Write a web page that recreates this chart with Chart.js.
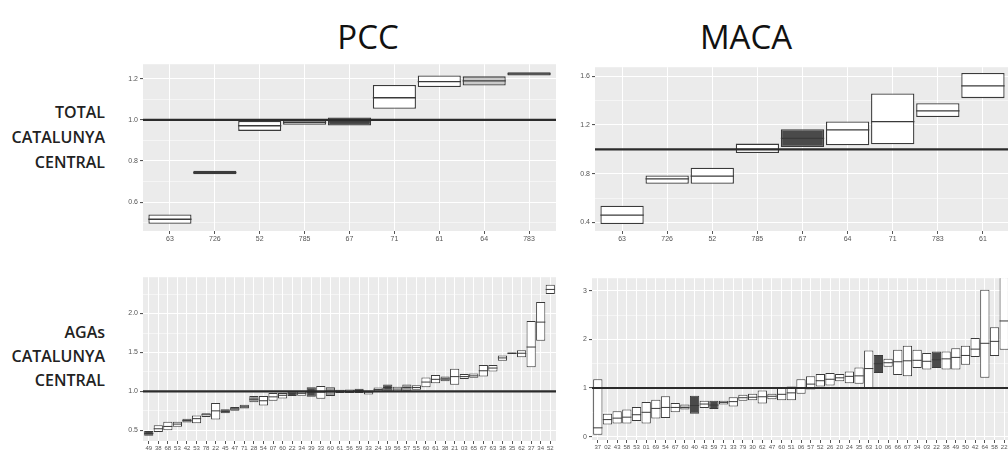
<!DOCTYPE html>
<html><head><meta charset="utf-8">
<script src="https://cdn.jsdelivr.net/npm/chart.js@4.4.1/dist/chart.umd.min.js"></script>
<style>
html,body{margin:0;padding:0;background:#fff;width:1008px;height:457px;overflow:hidden;position:relative;font-family:"Open Sans",sans-serif;}
.title{position:absolute;font-size:33px;line-height:32px;color:#111;transform:translateX(-50%);white-space:nowrap;}
.row{position:absolute;right:903px;text-align:right;font-size:16px;font-weight:600;color:#222;white-space:nowrap;}
canvas{position:absolute;}
</style></head><body>
<div class="title" style="left:368px;top:21px;">PCC</div>
<div class="title" style="left:746px;top:21px;">MACA</div>
<div class="row" style="top:100px;line-height:25px;">TOTAL<br>CATALUNYA<br>CENTRAL</div>
<div class="row" style="top:320px;line-height:24px;">AGAs<br>CATALUNYA<br>CENTRAL</div>
<canvas id="c1"></canvas><canvas id="c2"></canvas><canvas id="c3"></canvas><canvas id="c4"></canvas>
<script>
// ---- DATA ----
const pccTotalCats = ['63','726','52','785','67','71','61','64','783'];
const pccTotalLow  = [0.495,0.735,0.946,0.976,0.972,1.054,1.159,1.166,1.215];
const pccTotalMid  = [0.517,0.743,0.971,0.988,0.990,1.107,1.185,1.189,1.223];
const pccTotalHigh = [0.540,0.752,0.995,1.000,1.011,1.169,1.215,1.211,1.231];
const pccTotalSig  = [0,2,0,1,3,0,0,1,2];

const macaTotalCats = ['63','726','52','785','67','64','71','783','61'];
const macaTotalLow  = [0.387,0.717,0.717,0.969,1.019,1.033,1.041,1.266,1.420];
const macaTotalMid  = [0.461,0.758,0.780,1.000,1.090,1.159,1.228,1.315,1.521];
const macaTotalHigh = [0.538,0.785,0.849,1.047,1.165,1.228,1.459,1.379,1.626];
const macaTotalSig  = [0,0,0,0,3,0,0,0,0];

const pccAgaCats = ['49','38','68','53','42','53','78','22','45','47','71','28','54','07','60','22','34','39','33','60','61','56','59','33','24','19','56','57','55','60','61','38','21','03','65','67','63','38','35','62','37','34','52'];
const pccAgaLow  = [0.43,0.48,0.50,0.545,0.60,0.59,0.67,0.64,0.72,0.75,0.78,0.86,0.82,0.88,0.91,0.94,0.945,0.93,0.905,0.94,0.98,0.98,0.98,0.96,1.0,1.01,1.0,1.01,1.02,1.055,1.105,1.13,1.085,1.16,1.175,1.19,1.255,1.395,1.48,1.44,1.31,1.65,2.25];
const pccAgaMid  = [0.46,0.52,0.55,0.58,0.625,0.65,0.70,0.75,0.745,0.775,0.80,0.90,0.88,0.93,0.95,0.97,0.975,0.99,0.99,1.0,1.0,1.0,1.01,0.99,1.025,1.05,1.03,1.05,1.05,1.12,1.155,1.16,1.19,1.19,1.2,1.265,1.30,1.43,1.49,1.49,1.57,1.89,2.31];
const pccAgaHigh = [0.49,0.566,0.61,0.61,0.65,0.69,0.72,0.85,0.77,0.80,0.83,0.94,0.94,0.98,0.98,1.0,1.0,1.055,1.07,1.055,1.02,1.025,1.035,1.01,1.05,1.09,1.06,1.09,1.08,1.18,1.21,1.19,1.29,1.225,1.23,1.34,1.34,1.46,1.50,1.53,1.905,2.15,2.37];
const pccAgaSig  = [3,0,0,0,2,0,0,0,3,2,2,2,0,0,0,3,0,3,0,2,0,0,3,0,0,3,0,2,0,0,0,2,0,0,0,0,0,0,0,0,0,0,0];

const macaAgaCats = ['37','02','43','58','53','01','69','54','67','60','40','43','59','71','33','79','30','62','47','60','51','06','57','52','26','20','24','35','63','10','06','66','67','34','03','22','38','49','50','42','64','58','22'];
const macaAgaLow  = [0.04,0.25,0.27,0.27,0.32,0.27,0.37,0.385,0.50,0.56,0.47,0.59,0.57,0.66,0.62,0.74,0.75,0.68,0.77,0.75,0.75,0.88,0.97,1.03,1.05,1.14,1.10,1.09,1.0,1.31,1.44,1.27,1.24,1.41,1.38,1.41,1.38,1.38,1.48,1.64,1.21,1.66,1.79];
const macaAgaMid  = [0.18,0.35,0.38,0.40,0.45,0.50,0.58,0.60,0.60,0.60,0.64,0.67,0.65,0.70,0.72,0.80,0.81,0.82,0.83,0.87,0.90,1.0,1.08,1.15,1.18,1.21,1.24,1.25,1.40,1.5,1.52,1.54,1.56,1.57,1.55,1.58,1.60,1.63,1.67,1.80,1.92,1.96,2.38];
const macaAgaHigh = [1.18,0.47,0.52,0.56,0.61,0.71,0.76,0.83,0.69,0.66,0.84,0.74,0.74,0.74,0.81,0.86,0.88,0.95,0.88,1.0,1.03,1.18,1.24,1.29,1.31,1.29,1.34,1.42,1.77,1.68,1.60,1.79,1.87,1.79,1.72,1.75,1.75,1.82,1.87,2.03,3.02,2.25,3.3];
const macaAgaSig  = [0,0,0,0,0,0,0,0,0,1,3,0,3,0,0,0,0,0,0,0,0,0,0,0,0,0,0,0,0,3,0,0,0,0,0,3,0,0,0,0,0,0,0];

const pccTotalTicks = [0.6,0.8,1.0,1.2];   const pccTotalTickLabels = ['0.6','0.8','1.0','1.2'];
const macaTotalTicks = [0.4,0.8,1.2,1.6];  const macaTotalTickLabels = ['0.4','0.8','1.2','1.6'];
const pccAgaTicks = [0.5,1.0,1.5,2.0];     const pccAgaTickLabels = ['0.5','1.0','1.5','2.0'];
const macaAgaTicks = [0,1,2,3];            const macaAgaTickLabels = ['0','1','2','3'];
const refValue = 1;

// ---- STYLE ----
const sigFill = ['#ffffff','#c9c9c9','#9a9a9a','#4a4a4a'];
const YW = 22, XH = 20, PT = 6, PR = 4;

const crossbarPlugin = {
  id: 'crossbar',
  beforeDraw(chart) {
    const a = chart.chartArea, ctx = chart.ctx;
    ctx.save(); ctx.fillStyle = '#ebebeb';
    ctx.fillRect(a.left, a.top, a.right - a.left, a.bottom - a.top);
    ctx.restore();
  },
  afterDatasetsDraw(chart) {
    const a = chart.chartArea, ctx = chart.ctx, ys = chart.scales.y;
    const ds = chart.data.datasets[0], meta = chart.getDatasetMeta(0);
    ctx.save();
    ctx.beginPath(); ctx.rect(a.left, a.top, a.right - a.left, a.bottom - a.top); ctx.clip();
    ctx.strokeStyle = ds.borderColor; ctx.lineWidth = ds.borderWidth;
    meta.data.forEach((bar, i) => {
      const y = ys.getPixelForValue(ds.mids[i]);
      ctx.beginPath(); ctx.moveTo(bar.x - bar.width / 2, y); ctx.lineTo(bar.x + bar.width / 2, y); ctx.stroke();
    });
    const yr = ys.getPixelForValue(refValue);
    ctx.strokeStyle = '#2b2b2b'; ctx.lineWidth = 2.2;
    ctx.beginPath(); ctx.moveTo(a.left, yr); ctx.lineTo(a.right, yr); ctx.stroke();
    ctx.restore();
  }
};

function makePanel(id, area, cats, lo, mid, hi, sig, yMin, yMax, ticks, tickLabels, xFont, bw) {
  const cv = document.getElementById(id);
  const w = area.right - area.left + YW + PR, h = area.bottom - area.top + PT + XH;
  cv.width = Math.round(w); cv.height = Math.round(h);
  cv.style.left = (area.left - YW) + 'px'; cv.style.top = (area.top - PT) + 'px';
  const minors = [];
  for (let i = 0; i < ticks.length - 1; i++) minors.push((ticks[i] + ticks[i + 1]) / 2);
  const step = ticks[1] - ticks[0];
  if (ticks[0] - step / 2 > yMin) minors.unshift(ticks[0] - step / 2);
  if (ticks[ticks.length - 1] + step / 2 < yMax) minors.push(ticks[ticks.length - 1] + step / 2);
  const n = cats.length;
  new Chart(cv, {
    type: 'bar',
    data: {
      datasets: [{
        data: cats.map((c, i) => ({ x: i, y: [lo[i], hi[i]] })),
        mids: mid,
        backgroundColor: sig.map(s => sigFill[s]),
        borderColor: '#3a3a3a', borderWidth: bw, borderSkipped: false,
        categoryPercentage: 1, barPercentage: 0.96
      }]
    },
    options: {
      responsive: false, animation: false, devicePixelRatio: 1,
      layout: { padding: { left: 0, right: PR, top: PT, bottom: 0 } },
      plugins: { legend: { display: false }, tooltip: { enabled: false } },
      scales: {
        x: {
          type: 'linear', min: -0.6, max: n - 0.4, offset: false,
          afterBuildTicks: s => { s.ticks = cats.map((c, i) => ({ value: i })); },
          afterFit: s => { s.height = XH; },
          ticks: { autoSkip: false, maxRotation: 0, minRotation: 0, padding: 1,
                   color: '#555', font: { family: 'Liberation Sans', size: xFont },
                   callback: v => cats[v] },
          grid: { offset: false, color: '#ffffff', lineWidth: 1, tickLength: 3, tickColor: '#555', drawOnChartArea: true },
          border: { display: false }
        },
        y: {
          type: 'linear', min: yMin, max: yMax,
          afterBuildTicks: s => {
            const all = ticks.map(v => ({ value: v, major: true })).concat(minors.map(v => ({ value: v, major: false })));
            all.sort((a, b) => a.value - b.value);
            s.ticks = all;
          },
          afterFit: s => { s.width = YW; },
          ticks: { autoSkip: false, padding: 2, color: '#555', font: { family: 'Liberation Sans', size: 7 },
                   callback: v => { const k = ticks.findIndex(t => Math.abs(t - v) < 1e-9); return k >= 0 ? tickLabels[k] : ''; } },
          grid: { color: '#ffffff',
                  lineWidth: c => (c.tick && c.tick.major) ? 1.1 : 0.5,
                  tickColor: c => (c.tick && c.tick.major) ? '#555' : 'rgba(0,0,0,0)',
                  tickLength: 3 },
          border: { display: false }
        }
      }
    },
    plugins: [crossbarPlugin]
  });
}

makePanel('c1', {left:143.3, right:556, top:64, bottom:231}, pccTotalCats, pccTotalLow, pccTotalMid, pccTotalHigh, pccTotalSig, 0.46, 1.27, pccTotalTicks, pccTotalTickLabels, 7, 1.3);
makePanel('c2', {left:595, right:1010, top:66.7, bottom:230.7}, macaTotalCats, macaTotalLow, macaTotalMid, macaTotalHigh, macaTotalSig, 0.33, 1.674, macaTotalTicks, macaTotalTickLabels, 7, 1.3);
makePanel('c3', {left:143.3, right:556, top:276.7, bottom:440.7}, pccAgaCats, pccAgaLow, pccAgaMid, pccAgaHigh, pccAgaSig, 0.363, 2.467, pccAgaTicks, pccAgaTickLabels, 6, 1);
makePanel('c4', {left:591.6, right:1009.2, top:278.3, bottom:440.7}, macaAgaCats, macaAgaLow, macaAgaMid, macaAgaHigh, macaAgaSig, -0.07, 3.26, macaAgaTicks, macaAgaTickLabels, 6, 1);
</script>
</body></html>
